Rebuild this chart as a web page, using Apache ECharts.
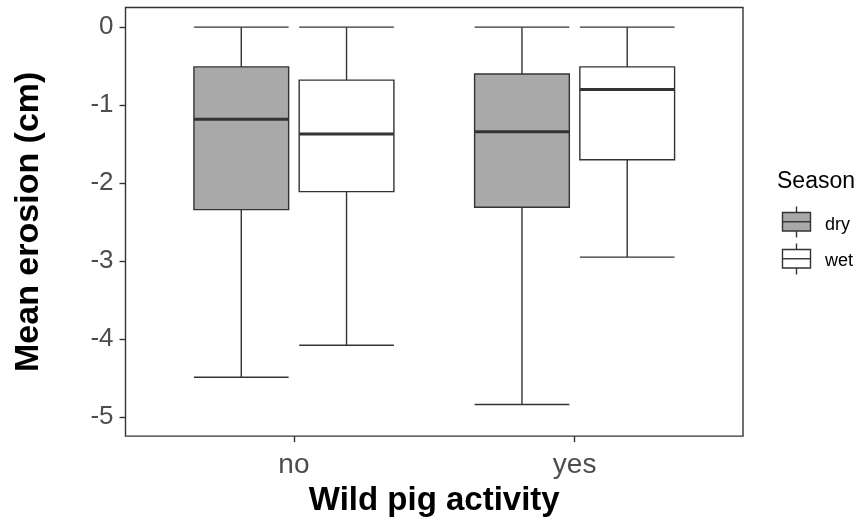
<!DOCTYPE html>
<html>
<head>
<meta charset="utf-8">
<style>
  html, body { margin: 0; padding: 0; background: #ffffff; }
  #chart { width: 863px; height: 522px; }
</style>
<script src="https://cdn.jsdelivr.net/npm/echarts@6/dist/echarts.min.js"></script>
</head>
<body>
<div id="chart"></div>
<script>
// Wild pig activity groups on the x axis
const categories = ['no', 'yes'];
const seasons = ['dry', 'wet'];
// Five-number summaries per group: [lower whisker, Q1, median, Q3, upper whisker]
const dryStats = [
  [-4.49, -2.34, -1.18, -0.51, 0],
  [-4.84, -2.31, -1.34, -0.60, 0]
];
const wetStats = [
  [-4.08, -2.11, -1.37, -0.68, 0],
  [-2.95, -1.70, -0.80, -0.51, 0]
];
const yTicks = [0, -1, -2, -3, -4, -5];

const DODGE = 0.1875;   // half of the dodge width
const BOX_W = 0.3375;   // box width in x-axis units
const FONT = 'Liberation Sans, Arial, Helvetica, sans-serif';
const LINE = '#333333';

function toSeriesData(stats, offset) {
  return stats.map((s, i) => [i + 1 + offset].concat(s));
}

function renderBox(params, api) {
  const x = api.value(0);
  const lo = api.coord([x, api.value(1)]);
  const q1 = api.coord([x, api.value(2)]);
  const med = api.coord([x, api.value(3)]);
  const q3 = api.coord([x, api.value(4)]);
  const hi = api.coord([x, api.value(5)]);
  const half = api.size([BOX_W, 0])[0] / 2;
  const cx = lo[0];
  const fill = api.visual('color');
  const stroke = { stroke: LINE, lineWidth: 1.4 };
  return {
    type: 'group',
    children: [
      { type: 'line', shape: { x1: cx, y1: hi[1], x2: cx, y2: q3[1] }, style: stroke },
      { type: 'line', shape: { x1: cx, y1: q1[1], x2: cx, y2: lo[1] }, style: stroke },
      { type: 'line', shape: { x1: cx - half, y1: hi[1], x2: cx + half, y2: hi[1] }, style: stroke },
      { type: 'line', shape: { x1: cx - half, y1: lo[1], x2: cx + half, y2: lo[1] }, style: stroke },
      { type: 'rect', shape: { x: cx - half, y: q3[1], width: half * 2, height: q1[1] - q3[1] },
        style: { fill: fill, stroke: LINE, lineWidth: 1.4 } },
      { type: 'line', shape: { x1: cx - half, y1: med[1], x2: cx + half, y2: med[1] },
        style: { stroke: LINE, lineWidth: 3 } }
    ]
  };
}

// Legend keys: small boxplot glyphs, top of whisker at y0
function legendKey(y0, fill) {
  const x0 = 782.5, w = 28, cx = x0 + w / 2;
  return [
    { type: 'line', shape: { x1: cx, y1: y0, x2: cx, y2: y0 + 31 }, style: { stroke: LINE, lineWidth: 1.4 } },
    { type: 'rect', shape: { x: x0, y: y0 + 6, width: w, height: 18.5 }, style: { fill: fill, stroke: LINE, lineWidth: 1.4 } },
    { type: 'line', shape: { x1: x0, y1: y0 + 15.25, x2: x0 + w, y2: y0 + 15.25 }, style: { stroke: LINE, lineWidth: 1.4 } }
  ];
}

const chart = echarts.init(document.getElementById('chart'), null, { renderer: 'canvas' });
chart.setOption({
  animation: false,
  backgroundColor: '#ffffff',
  grid: {
    left: 125.5, right: 120, top: 7.5, bottom: 84.5,
    show: true, borderColor: LINE, borderWidth: 1.4, backgroundColor: 'transparent'
  },
  xAxis: {
    type: 'value', min: 0.4, max: 2.6,
    name: 'Wild pig activity', nameLocation: 'middle', nameGap: 43,
    nameTextStyle: { fontFamily: FONT, fontSize: 33, fontWeight: 'bold', color: '#000000' },
    axisLine: { show: false, onZero: false },
    splitLine: { show: false },
    axisTick: { show: true, customValues: [1, 2], length: 6, lineStyle: { color: LINE, width: 1.4 } },
    axisLabel: {
      customValues: [1, 2], margin: 15,
      formatter: v => categories[Math.round(v) - 1] || '',
      fontFamily: FONT, fontSize: 28, color: '#4D4D4D'
    }
  },
  yAxis: {
    type: 'value', min: -5.245, max: 0.252,
    name: 'Mean erosion (cm)', nameLocation: 'middle', nameGap: 80, nameRotate: 90,
    nameTextStyle: { fontFamily: FONT, fontSize: 34, fontWeight: 'bold', color: '#000000' },
    axisLine: { show: false, onZero: false },
    splitLine: { show: false },
    axisTick: { show: true, customValues: yTicks, length: 6, lineStyle: { color: LINE, width: 1.4 } },
    axisLabel: {
      customValues: yTicks, margin: 12,
      formatter: v => String(Math.round(v)),
      fontFamily: FONT, fontSize: 26, color: '#4D4D4D'
    }
  },
  series: [
    {
      name: seasons[0], type: 'custom', renderItem: renderBox,
      itemStyle: { color: '#A9A9A9' },
      encode: { x: 0, y: [1, 2, 3, 4, 5] },
      data: toSeriesData(dryStats, -DODGE)
    },
    {
      name: seasons[1], type: 'custom', renderItem: renderBox,
      itemStyle: { color: '#FFFFFF' },
      encode: { x: 0, y: [1, 2, 3, 4, 5] },
      data: toSeriesData(wetStats, DODGE)
    }
  ],
  graphic: [
    { type: 'text', left: 777, top: 170,
      style: { text: 'Season', fontFamily: FONT, fontSize: 23, fill: '#000000' } }
  ].concat(legendKey(206.5, '#A9A9A9'), legendKey(243.5, '#FFFFFF'), [
    { type: 'text', left: 825, top: 216,
      style: { text: seasons[0], fontFamily: FONT, fontSize: 18, fill: '#000000' } },
    { type: 'text', left: 825, top: 252,
      style: { text: seasons[1], fontFamily: FONT, fontSize: 18, fill: '#000000' } }
  ])
});
</script>
</body>
</html>
